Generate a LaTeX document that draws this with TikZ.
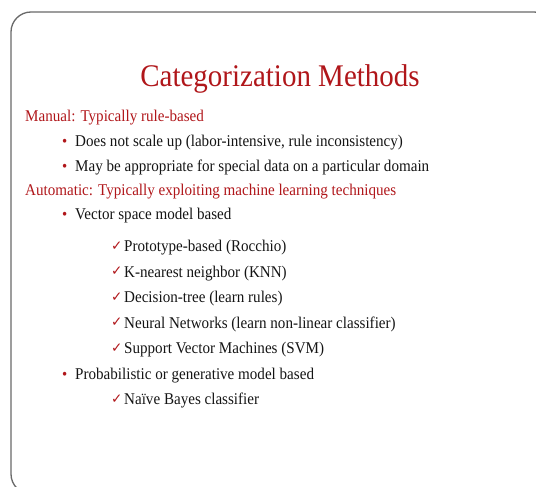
\documentclass[tikz,border=0pt]{standalone}
\usepackage{fontspec}
\setmainfont{Liberation Serif}[FakeStretch=0.92]
\newfontfamily\symfont{DejaVu Sans}
\usepackage{xcolor}
\usepackage{tikz}

\definecolor{slidered}{RGB}{176,22,26}
\definecolor{framegray}{RGB}{105,105,105}
\definecolor{bodytext}{RGB}{20,20,20}

\tikzset{
  heading/.style={anchor=base west, inner sep=0pt, text=slidered, font=\fontsize{16.4}{19}\selectfont},
  point/.style={anchor=base west, inner sep=0pt, text=bodytext, font=\fontsize{16.4}{19}\selectfont},
  dot/.style={anchor=base west, inner sep=0pt, text=slidered, font=\fontsize{16}{19}\selectfont},
  tick/.style={anchor=base west, inner sep=0pt, text=slidered, font=\symfont\fontsize{13.5}{16}\selectfont},
}

\begin{document}
\begin{tikzpicture}[x=1pt, y=-1pt]
        \useasboundingbox (0,0) rectangle (536,487);
        \clip (0,0) rectangle (536,487);
        % slide frame
        \draw[framegray, line width=1.3pt, rounded corners=20pt] (11,12) rectangle (554,494);

        \node[anchor=base, inner sep=0pt, text=slidered, font=\fontsize{31.5}{36}\selectfont] (title) at (280,87) {Categorization Methods};

        \node[heading] (manual) at (25,121.5) {Manual: Typically rule-based};
        \node[dot] (b1) at (62,146.5) {•};
        \node[point] (scale) at (75,146.5) {Does not scale up (labor-intensive, rule inconsistency)};
        \node[dot] (b2) at (62,171) {•};
        \node[point] (special) at (75,171) {May be appropriate for special data on a particular domain};

        \node[heading] (auto) at (25,195) {Automatic: Typically exploiting machine learning techniques};
        \node[dot] (b3) at (62,219.5) {•};
        \node[point] (vsm) at (75,219.5) {Vector space model based};

        % checked sub-items
        \foreach \name/\ypos/\txt in {rocchio/251.5/{Prototype-based (Rocchio)},
                                     knn/277/{K-nearest neighbor (KNN)},
                                     dtree/302.5/{Decision-tree (learn rules)},
                                     nnet/328/{Neural Networks (learn non-linear classifier)},
                                     svm/353.5/{Support Vector Machines (SVM)}} {
          \node[tick] (t-\name) at (111,\ypos-1.5) {✓};
          \node[point] (\name) at (124,\ypos) {\txt};
        }

        \node[dot] (b4) at (62,379) {•};
        \node[point] (prob) at (75,379) {Probabilistic or generative model based};
        \node[tick] (t-nb) at (111,403) {✓};
        \node[point] (nb) at (124,404.5) {Naïve Bayes classifier};
\end{tikzpicture}
\end{document}
